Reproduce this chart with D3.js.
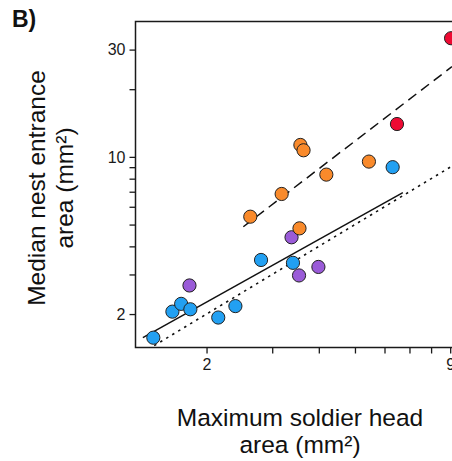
<!DOCTYPE html>
<html><head><meta charset="utf-8">
<script src="https://cdn.jsdelivr.net/npm/d3@7/dist/d3.min.js"></script>
<style>
body{margin:0;background:#fff;}
svg{display:block;font-family:"Liberation Sans",Arial,sans-serif;}
</style></head>
<body><svg id="c" width="452" height="461"></svg>
<script>
// Data (x = maximum soldier head area, y = median nest entrance area, mm²)
const bluePts   = [[1.44,1.57],[1.62,2.05],[1.71,2.22],[1.81,2.10],[2.15,1.93],[2.39,2.17],[2.80,3.48],[3.41,3.38],[6.31,9.0]];
const purplePts = [[1.80,2.68],[3.38,4.39],[3.54,2.97],[3.99,3.24]];
const orangePts = [[2.62,5.42],[3.18,6.84],[3.55,4.81],[3.57,11.3],[3.64,10.7],[4.19,8.34],[5.45,9.53]];
const redPts    = [[6.48,14.0],[9.05,33.7]];
const solidFit  = [[1.35,1.57],[6.72,6.93]];
const dashedFit = [[2.51,4.89],[9.1,25.2]];
const isometry  = [[1.0,1.0],[12,12]];
const yTicks = [2,3,4,5,6,7,8,9,10,20,30];
const yLabels = [2,10,30];
const xTicks = [2,3,4,5,6,7,8,9];
const xLabels = [2,9];

const svg = d3.select("#c");
const L = 135.5, T = 21.5, B = 347.5;
const xDom = [1.29, 10];
const x = d3.scaleLog().domain(xDom).range([L, L + 373*Math.log10(xDom[1]/xDom[0])]);
const y = d3.scaleLog().domain([1.42, 40]).range([B, T]);
const R = x.range()[1];

svg.append("defs").append("clipPath").attr("id","clip")
  .append("rect").attr("x",L).attr("y",T).attr("width",R-L).attr("height",B-T);

// frame
svg.append("rect").attr("x",L).attr("y",T).attr("width",R-L).attr("height",B-T)
  .attr("fill","none").attr("stroke","#1a1a1a").attr("stroke-width",1.5);

// axes
const yAxis = d3.axisLeft(y).tickValues(yTicks).tickSize(6).tickPadding(4)
  .tickFormat(d => yLabels.includes(d) ? d : "");
const gy = svg.append("g").attr("transform",`translate(${L},0)`).call(yAxis);
const xAxis = d3.axisBottom(x).tickValues(xTicks).tickSize(6).tickPadding(5)
  .tickFormat(d => xLabels.includes(d) ? d : "");
const gx = svg.append("g").attr("transform",`translate(0,${B})`).call(xAxis);
[gx, gy].forEach(g => {
  g.select(".domain").remove();
  g.selectAll(".tick line").attr("stroke","#1a1a1a").attr("stroke-width",1.3);
  g.selectAll(".tick text").attr("fill","#1a1a1a").style("font-size","16px");
});

const line = d3.line().x(d => x(d[0])).y(d => y(d[1]));
const lg = svg.append("g").attr("clip-path","url(#clip)");
lg.append("path").attr("d", line(isometry)).attr("fill","none")
  .attr("stroke","#111").attr("stroke-width",1.6).attr("stroke-dasharray","2.5,4.5");
lg.append("path").attr("d", line(solidFit)).attr("fill","none")
  .attr("stroke","#111").attr("stroke-width",1.5);
lg.append("path").attr("d", line(dashedFit)).attr("fill","none")
  .attr("stroke","#111").attr("stroke-width",1.5).attr("stroke-dasharray","10,6");

const groups = [
  {pts: bluePts, c:"#22a0f2"},
  {pts: purplePts, c:"#9a5bd8"},
  {pts: orangePts, c:"#f98a2b"},
  {pts: redPts, c:"#ee0a33"}
];
groups.forEach(g => {
  svg.append("g").selectAll("circle").data(g.pts).join("circle")
    .attr("cx", d => x(d[0])).attr("cy", d => y(d[1])).attr("r", 6.6)
    .attr("fill", g.c).attr("stroke","#222").attr("stroke-width",1);
});

// titles
svg.append("text").attr("x",12).attr("y",27).attr("font-weight","bold")
  .style("font-size","23px").attr("fill","#111").text("B)");
const xt = svg.append("text").attr("text-anchor","middle").style("font-size","24.5px").attr("fill","#111");
xt.append("tspan").attr("x",300).attr("y",426).text("Maximum soldier head");
xt.append("tspan").attr("x",300).attr("y",453).text("area (mm²)");
const yt = svg.append("text").attr("text-anchor","middle").style("font-size","24.5px").attr("fill","#111")
  .attr("transform","translate(0,188) rotate(-90)");
yt.append("tspan").attr("x",0).attr("y",45).text("Median nest entrance");
yt.append("tspan").attr("x",0).attr("y",73).text("area (mm²)");
</script></body></html>
